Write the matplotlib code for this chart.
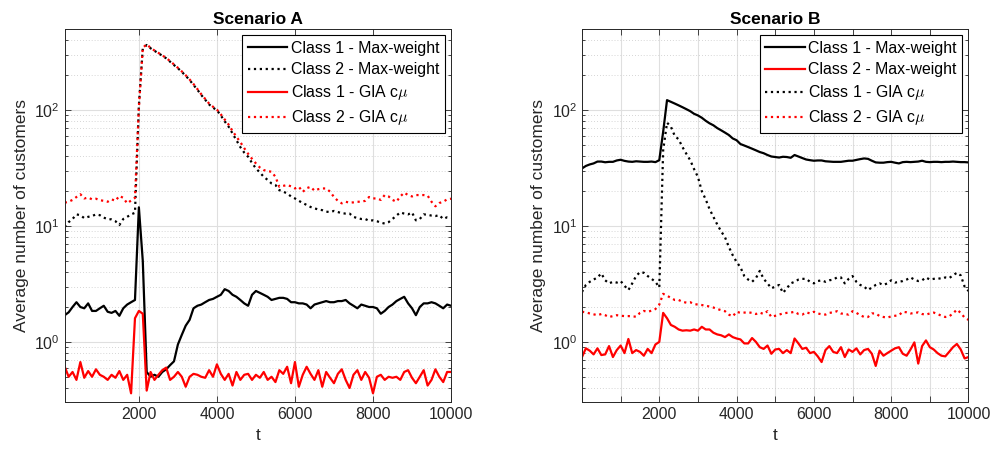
import numpy as np
import matplotlib
matplotlib.use('Agg')
import matplotlib.pyplot as plt
from matplotlib.ticker import NullFormatter, LogLocator

plt.rcParams['font.family'] = ['Liberation Sans', 'DejaVu Sans']
plt.rcParams['mathtext.fontset'] = 'cm'

# sampling grid of the simulation output
t_a = np.arange(100, 10001, 100)
t_b = np.arange(0, 10001, 100)

# Scenario A
a_class1_mw = [1.70, 1.80, 2.00, 2.20, 2.00, 1.95, 2.15, 1.85, 1.85, 1.95,
               2.05, 1.82, 1.78, 1.85, 1.68, 1.95, 2.10, 2.20, 2.30, 14.5,
               5.0, 0.55, 0.50, 0.52, 0.50, 0.55, 0.58, 0.63, 0.68, 0.95,
               1.15, 1.38, 1.55, 1.95, 2.05, 2.10, 2.20, 2.30, 2.35, 2.45,
               2.55, 2.85, 2.75, 2.55, 2.45, 2.30, 2.15, 2.05, 2.55, 2.75,
               2.65, 2.55, 2.45, 2.30, 2.35, 2.40, 2.40, 2.35, 2.20, 2.20,
               2.15, 2.15, 2.10, 1.95, 2.10, 2.15, 2.20, 2.25, 2.20, 2.20,
               2.25, 2.25, 2.30, 2.15, 2.05, 1.95, 2.10, 2.05, 2.00, 2.00,
               1.95, 1.75, 1.85, 2.00, 2.10, 2.25, 2.35, 2.45, 2.15, 1.95,
               1.70, 2.00, 2.15, 2.15, 2.20, 2.15, 2.05, 1.95, 2.10, 2.05]
a_class2_mw = [9.8, 10.8, 11.5, 12.6, 12.4, 11.7, 12.0, 12.2, 12.6, 12.4,
               11.8, 11.5, 11.4, 11.0, 10.2, 11.5, 12.0, 12.6, 13.0, 110,
               340, 365, 342, 325, 310, 295, 280, 262, 245, 230,
               214, 198, 182, 165, 150, 135, 123, 112, 105, 100,
               90, 80, 72, 63, 55, 48, 43, 39.6, 35, 31.4,
               29, 26.6, 25, 23.3, 22.6, 20.4, 19.8, 19.1, 18, 17.3,
               16.5, 15.8, 15.2, 14.6, 14.2, 13.9, 13.7, 13.3, 13.2, 13.5,
               13.2, 12.9, 12.8, 12.8, 12.0, 11.7, 11.5, 11.5, 11.1, 11.2,
               11.0, 10.7, 10.5, 10.8, 11.5, 12.3, 13.1, 12.8, 12.6, 13.1,
               11.2, 11.5, 12.6, 12.5, 12.3, 12.2, 12.4, 11.5, 11.9, 11.8]
a_class1_gia = [0.61, 0.50, 0.55, 0.47, 0.67, 0.49, 0.56, 0.50, 0.58, 0.52,
                0.50, 0.47, 0.52, 0.49, 0.56, 0.47, 0.52, 0.36, 1.60, 1.85,
                1.75, 0.38, 0.55, 0.47, 0.52, 0.57, 0.60, 0.47, 0.50, 0.55,
                0.50, 0.41, 0.50, 0.53, 0.52, 0.50, 0.49, 0.57, 0.50, 0.64,
                0.53, 0.47, 0.53, 0.42, 0.55, 0.47, 0.52, 0.53, 0.47, 0.52,
                0.49, 0.55, 0.47, 0.50, 0.45, 0.57, 0.53, 0.61, 0.44, 0.67,
                0.41, 0.52, 0.61, 0.53, 0.47, 0.57, 0.41, 0.55, 0.49, 0.44,
                0.53, 0.58, 0.47, 0.40, 0.52, 0.57, 0.47, 0.55, 0.49, 0.36,
                0.50, 0.52, 0.47, 0.50, 0.49, 0.50, 0.47, 0.55, 0.57, 0.49,
                0.44, 0.50, 0.57, 0.42, 0.47, 0.58, 0.50, 0.45, 0.55, 0.55]
a_class2_gia = [15.9, 16.2, 16.8, 17.8, 18.8, 17.3, 17.6, 17.0, 17.2, 16.7,
                16.5, 16.2, 17.0, 16.5, 18.2, 17.5, 15.7, 16.6, 17.5, 105,
                345, 370, 345, 327, 312, 297, 282, 265, 248, 232,
                216, 200, 184, 168, 152, 137, 125, 114, 107, 101,
                92, 83, 75, 66, 59, 53, 47, 42, 38, 34.7,
                32, 30.4, 29.8, 29.4, 26.6, 21.8, 22.2, 22.6, 22.0, 21.1,
                21.8, 19.7, 21.2, 21.8, 20.2, 20.8, 21.1, 21.1, 19.8, 17.8,
                16.5, 15.7, 16.2, 15.9, 16.0, 16.2, 16.2, 16.5, 17.8, 17.3,
                17.3, 16.8, 18.5, 18.0, 16.8, 16.2, 18.0, 19.4, 18.5, 18.0,
                18.5, 18.5, 18.5, 18.3, 16.2, 14.8, 15.8, 16.2, 17.0, 17.2]

# Scenario B
b_class1_mw = [31.4,
               33, 34, 34.7, 36.0, 36.0, 35.5, 35.8, 35.8, 36.8, 37.3,
               36.5, 36.0, 35.8, 36.2, 36.0, 35.8, 35.8, 36.0, 35.6, 37,
               65, 122, 118, 114, 110, 106, 102, 98, 93, 90,
               86, 81, 77, 74, 70, 67, 64, 61, 57, 55,
               51, 49.5, 48, 46.5, 45, 43.5, 42.5, 41, 39.8, 39.4,
               39.0, 39.6, 39.4, 38.8, 41.0, 39.8, 38.6, 37.5, 37.0, 36.6,
               36.8, 36.8, 36.2, 36.0, 35.8, 35.8, 35.8, 36.2, 36.6, 36.6,
               37.2, 37.8, 38.3, 38.0, 36.6, 35.4, 35.2, 35.2, 35.6, 35.8,
               35.2, 34.7, 35.6, 35.8, 35.6, 35.8, 36.0, 36.6, 35.8, 35.6,
               35.8, 35.8, 35.6, 35.8, 35.8, 36.0, 35.8, 35.6, 35.6, 35.4]
b_class2_mw = [0.74,
               0.88, 0.84, 0.78, 0.88, 0.77, 0.78, 0.92, 0.74, 0.85, 0.93,
               0.80, 1.06, 0.80, 0.85, 0.82, 0.76, 0.87, 0.80, 0.95, 1.00,
               1.78, 1.60, 1.40, 1.35, 1.28, 1.25, 1.26, 1.25, 1.28, 1.25,
               1.35, 1.28, 1.28, 1.20, 1.16, 1.14, 1.10, 1.16, 1.10, 1.07,
               1.05, 0.97, 0.97, 1.08, 1.00, 0.90, 0.87, 0.93, 0.79, 0.86,
               0.87, 0.80, 0.85, 0.80, 1.07, 0.97, 0.87, 0.89, 0.80, 0.82,
               0.75, 0.67, 0.85, 0.92, 0.82, 0.80, 0.90, 0.74, 0.86, 0.82,
               0.88, 0.78, 0.85, 0.87, 0.79, 0.62, 0.84, 0.76, 0.80, 0.84,
               0.88, 0.90, 0.79, 0.76, 0.86, 0.99, 0.65, 0.92, 1.03, 0.90,
               0.86, 0.80, 0.76, 0.75, 0.82, 0.90, 0.96, 0.86, 0.72, 0.74]
b_class1_gia = [2.7,
                3.1, 3.3, 3.45, 3.6, 3.9, 3.4, 3.2, 3.3, 3.25, 3.35,
                3.05, 2.8, 3.2, 3.7, 4.0, 3.95, 3.7, 3.5, 3.3, 2.95,
                45, 78, 72, 60, 56, 48, 42, 37, 31, 26.5,
                20, 17, 14, 12, 10.3, 9.0, 8.0, 6.6, 5.6, 4.9,
                4.4, 3.7, 3.45, 3.3, 3.55, 4.1, 3.5, 3.2, 2.9, 3.0,
                3.1, 2.65, 2.9, 3.2, 3.3, 3.45, 3.5, 3.5, 3.3, 3.2,
                3.35, 3.4, 3.3, 3.4, 3.45, 3.6, 3.6, 3.2, 3.5, 3.7,
                3.3, 3.1, 3.0, 2.8, 2.95, 3.1, 3.2, 3.1, 3.2, 3.4,
                3.25, 3.3, 3.35, 3.45, 3.6, 3.45, 3.35, 3.4, 3.6, 3.45,
                3.5, 3.55, 3.5, 3.6, 3.55, 3.75, 3.95, 3.75, 3.0, 2.75]
b_class2_gia = [1.82,
                1.80, 1.76, 1.73, 1.70, 1.74, 1.70, 1.64, 1.67, 1.70, 1.68,
                1.67, 1.67, 1.66, 1.65, 1.78, 1.85, 1.82, 1.86, 1.92, 2.10,
                2.60, 2.50, 2.40, 2.30, 2.30, 2.22, 2.18, 2.20, 2.12, 2.10,
                2.08, 2.05, 2.02, 1.98, 1.92, 1.88, 1.84, 1.72, 1.66, 1.82,
                1.78, 1.79, 1.80, 1.78, 1.74, 1.79, 1.74, 1.84, 1.64, 1.68,
                1.72, 1.76, 1.78, 1.79, 1.82, 1.74, 1.72, 1.80, 1.76, 1.82,
                1.76, 1.73, 1.72, 1.78, 1.80, 1.84, 1.76, 1.74, 1.72, 1.84,
                1.78, 1.70, 1.64, 1.64, 1.76, 1.76, 1.67, 1.64, 1.62, 1.66,
                1.68, 1.70, 1.82, 1.80, 1.76, 1.77, 1.80, 1.74, 1.72, 1.76,
                1.79, 1.74, 1.68, 1.64, 1.66, 1.76, 1.90, 1.78, 1.62, 1.55]

lbl_c1_mw = 'Class 1 - Max-weight'
lbl_c2_mw = 'Class 2 - Max-weight'
lbl_c1_gia = r'Class 1 - GIA c$\mu$'
lbl_c2_gia = r'Class 2 - GIA c$\mu$'

FS = 11.4
GRAY = '#262626'
RED = '#ff0000'
LW = 1.6


def style_axes(ax, xlim, xticks, xlabels):
    ax.set_yscale('log')
    ax.set_ylim(0.3, 500)
    ax.set_xlim(*xlim)
    ax.set_xticks(xticks)
    ax.set_xticklabels(xlabels)
    ax.yaxis.set_major_locator(LogLocator(base=10))
    ax.yaxis.set_minor_locator(LogLocator(base=10, subs=np.arange(2, 10)))
    ax.yaxis.set_minor_formatter(NullFormatter())
    ax.set_axisbelow(True)
    ax.grid(True, which='major', color='#dfdfdf', linewidth=0.8, linestyle='-')
    ax.grid(True, which='minor', axis='y', color='#c8c8c8', linewidth=0.6,
            linestyle=(0, (1, 2.5)))
    ax.tick_params(which='both', direction='in', top=True, right=True,
                   color=GRAY, labelcolor=GRAY, labelsize=FS, width=0.6)
    ax.tick_params(which='major', length=4)
    ax.tick_params(which='minor', length=2.2)
    for s in ax.spines.values():
        s.set_color(GRAY)
        s.set_linewidth(0.7)
    ax.set_xlabel('t', fontsize=12.5, color=GRAY)
    ax.set_ylabel('Average number of customers', fontsize=12.5, color=GRAY)
    leg = ax.legend(loc='upper right', fontsize=FS, frameon=True, fancybox=False,
                    edgecolor='black', framealpha=1, handlelength=2.5,
                    handletextpad=0.2, borderpad=0.35, labelspacing=0.38,
                    borderaxespad=0.4)
    leg.get_frame().set_linewidth(0.8)


fig = plt.figure(figsize=(9.93, 4.5), dpi=100)
ax1 = fig.add_axes([0.0652, 0.1056, 0.389, 0.8296])
ax2 = fig.add_axes([0.5861, 0.1056, 0.3892, 0.8296])

ax1.plot(t_a, a_class1_mw, color='k', lw=LW, label=lbl_c1_mw)
ax1.plot(t_a, a_class2_mw, color='k', lw=LW, ls=':', label=lbl_c2_mw)
ax1.plot(t_a, a_class1_gia, color=RED, lw=LW, label=lbl_c1_gia)
ax1.plot(t_a, a_class2_gia, color=RED, lw=LW, ls=':', label=lbl_c2_gia)
ax1.set_title('Scenario A', fontsize=12.5, fontweight='bold', pad=4)
style_axes(ax1, (100, 10000), [2000, 4000, 6000, 8000, 10000],
           ['2000', '4000', '6000', '8000', '10000'])

ax2.plot(t_b, b_class1_mw, color='k', lw=LW, label=lbl_c1_mw)
ax2.plot(t_b, b_class2_mw, color=RED, lw=LW, label=lbl_c2_mw)
ax2.plot(t_b, b_class1_gia, color='k', lw=LW, ls=':', label=lbl_c1_gia)
ax2.plot(t_b, b_class2_gia, color=RED, lw=LW, ls=':', label=lbl_c2_gia)
ax2.set_title('Scenario B', fontsize=12.5, fontweight='bold', pad=4)
ticks_b = list(range(0, 10001, 1000))
style_axes(ax2, (0, 10000), ticks_b,
           [str(v) if v > 0 and v % 2000 == 0 else '' for v in ticks_b])

fig.savefig('out.png', dpi=100)
